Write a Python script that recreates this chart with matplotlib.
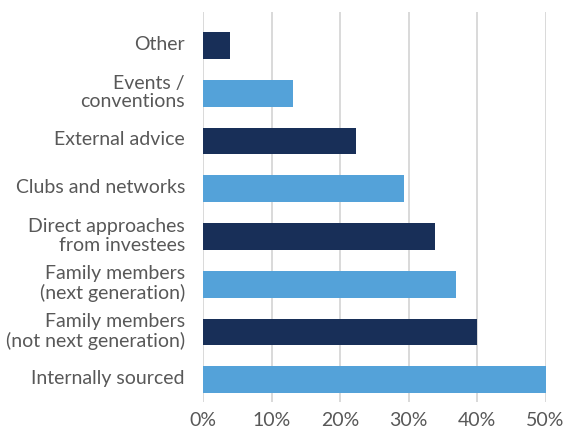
import matplotlib.pyplot as plt
from matplotlib.transforms import ScaledTranslation

categories = [
    "Other",
    "Events /\nconventions",
    "External advice",
    "Clubs and networks",
    "Direct approaches\nfrom investees",
    "Family members\n(next generation)",
    "Family members\n(not next generation)",
    "Internally sourced",
]
shares = [3.9, 13.2, 22.4, 29.4, 33.8, 37.0, 40.0, 50.0]
ticks = [0, 10, 20, 30, 40, 50]
tick_labels = ["0%", "10%", "20%", "30%", "40%", "50%"]

navy = "#182f58"
sky = "#54a2d9"
text_grey = "#585858"

plt.rcParams["font.family"] = ["Lato", "DejaVu Sans"]

fig = plt.figure(figsize=(5.69, 4.28), dpi=100)
ax = fig.add_axes([0.3568, 0.0607, 0.602, 0.911])

colors = [navy if i % 2 == 0 else sky for i in range(len(categories))]
ax.barh(range(len(categories)), shares, height=0.56, color=colors, zorder=3)

ax.set_ylim(7.47, -0.70)
ax.set_xlim(0, 50)
ax.set_yticks(range(len(categories)))
ax.set_yticklabels(categories, fontsize=14, color=text_grey, linespacing=1.12)
ax.set_xticks(ticks)
ax.set_xticklabels(tick_labels, fontsize=14, color=text_grey)
ax.tick_params(axis="y", length=0, pad=13)
ax.tick_params(axis="x", length=0, pad=7)

# lift the category labels a few pixels above the bar centres
shift = ScaledTranslation(0, 3 / 100, fig.dpi_scale_trans)
for lbl in ax.get_yticklabels():
    lbl.set_transform(lbl.get_transform() + shift)

ax.grid(axis="x", color="#cfcfcf", linewidth=1.1, zorder=0)
for s in ax.spines.values():
    s.set_visible(False)

fig.savefig("out.png", dpi=100)
